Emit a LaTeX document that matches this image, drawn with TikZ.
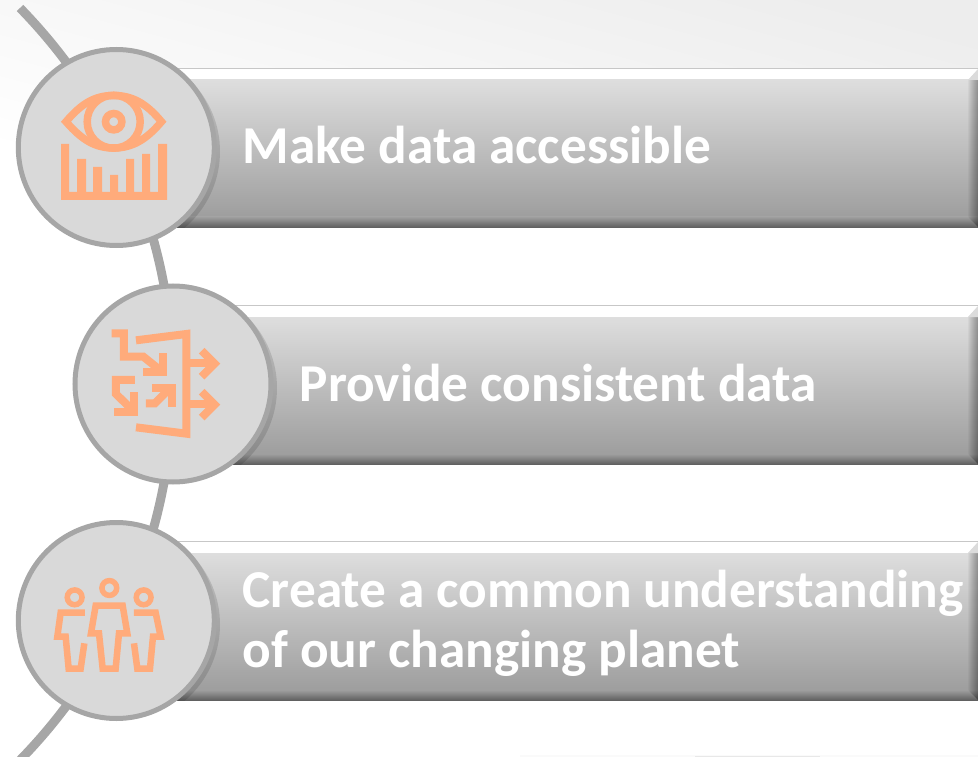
\documentclass[tikz,border=0pt]{standalone}
\usepackage{fontspec}
\setmainfont{Carlito}
\definecolor{ico}{HTML}{FFAB7B}
\definecolor{ringc}{HTML}{A6A6A6}
\definecolor{discc}{HTML}{D9D9D9}
\tikzset{
  x=1pt,y=-1pt,
  disc/.style={circle,draw=ringc,fill=discc,line width=5pt,minimum size=196pt,inner sep=0pt},
  spine/.style={draw=ringc,line width=9pt},
  iconline/.style={draw=ico,line width=6.5pt,miter limit=10},
  iconfat/.style={draw=ico,line width=8pt,miter limit=10},
  lbl/.style={text=white,font=\fontsize{53.3}{60}\selectfont\bfseries,anchor=base west,align=left,inner sep=0pt}
}
% #1 left x, #2 top y, #3 disc centre x, #4 disc centre y
\newcommand{\bevelbar}[4]{%
  \fill[white] (#1,#2) rectangle (978,#2+12);
  \draw[line width=1pt,draw=black!22] (#1,#2+.5) -- (978,#2+.5);
  \path[top color=black!13,bottom color=black!38] (#1,#2+12) rectangle (978,#2+149);
  \path[top color=black!38,bottom color=black!62] (#1,#2+149) rectangle (978,#2+159);
  \foreach \i in {0,...,9}{
    \fill[black,opacity=.035] (968+\i,#2+12-\i) -- (978,#2+2) -- (978,#2+159) -- (968+\i,#2+149+\i) -- cycle;
  }
  \fill[black!14] (968,#2+12) -- (978,#2+1) -- (978,#2+12) -- cycle;
  \begin{scope}
    \clip (#1,#2+12) rectangle (978,#2+159);
    \fill[black,opacity=.12] (#3+4,#4+4) circle[radius=100pt];
  \end{scope}
}
\begin{document}
\begin{tikzpicture}
\useasboundingbox (0,0) rectangle (978,757);
\path[top color=black!7,bottom color=white,shading angle=-15] (0,0) rectangle (978,190);
\fill[black!2] (520,754.5) rectangle (978,757);
\fill[black!9] (695,755.5) rectangle (820,757);

\coordinate (spineTop) at (20,8);
\draw[spine] (spineTop) arc[start angle=44.3,end angle=-44.6,radius=538.5pt];

\bevelbar{170}{68}{116}{147.5}
\bevelbar{230}{305}{173}{384}
\bevelbar{170}{541}{116}{620.5}

\node[disc] (c1) at (116.3,147.5) {};
\node[disc] (c2) at (173,384) {};
\node[disc] (c3) at (116.3,620.5) {};

% eye icon
\begin{scope}
\draw[iconline,line width=7.5pt] (66,121.7) .. controls (82,103) and (95,95.5) .. (113.7,95.5) .. controls (132,95.5) and (146,103) .. (161.5,121.7) .. controls (146,140) and (132,148) .. (113.7,148) .. controls (95,148) and (82,140) .. cycle;
\draw[iconline,line width=7.5pt] (113.7,121.7) circle[radius=26.5pt];
\draw[draw=ico,line width=7.5pt] (113.7,121.7) circle[radius=8.2pt];
\fill[ico] (61,144) rectangle (69,200) (61,192) rectangle (167,200) (158,144) rectangle (167,200)
 (77,159) rectangle (86,195) (93,167) rectangle (102,195) (110,175) rectangle (118,195)
 (126,159) rectangle (134,195) (142,154) rectangle (150,195);
\end{scope}

% funnel icon
\begin{scope}[shift={(60,270)},x=0.3333pt,y=-0.3333pt]
\draw[iconfat] (228,211) -- (379,192) -- (379,491) -- (228,472);
\draw[iconfat] (379,280) -- (460,280);
\draw[iconfat] (425,242) -- (464,281) -- (425,320);
\draw[iconfat] (379,403) -- (460,403);
\draw[iconfat] (425,365) -- (464,404) -- (425,443);
\draw[iconfat] (155,190) -- (192,190) -- (192,260) -- (250,260) -- (300,300);
\draw[iconfat] (250,307) -- (309,307) -- (309,250);
\draw[iconfat] (225,330) -- (168,330) -- (168,372) -- (215,418);
\draw[iconfat] (163,425) -- (222,425) -- (222,365);
\draw[iconfat] (258,400) -- (285,400) -- (330,355);
\draw[iconfat] (275,353) -- (335,353) -- (335,410);
\end{scope}

% people icon
\begin{scope}[shift={(0,510)},x=0.3333pt,y=-0.3333pt]
\draw[iconline,line width=5.5pt] (328,234) circle[radius=7.4pt];
\draw[iconline,line width=5.5pt] (224,262) circle[radius=7.4pt];
\draw[iconline,line width=5.5pt] (431,262) circle[radius=7.4pt];
\draw[iconline] (287,287) -- (368,287) -- (382,370) -- (357,370) -- (347,476) -- (308,476) -- (297,370) -- (273,370) -- cycle;
\draw[iconline] (255,308) -- (182,308) -- (172,380) -- (197,380) -- (206,476) -- (242,476) -- (253,400);
\draw[iconline] (402,308) -- (467,308) -- (482,380) -- (459,380) -- (450,476) -- (412,476) -- (402,400);
\end{scope}

\node[lbl] (t1) at (242.5,164) {Make data accessible};
\node[lbl] (t2) at (299.5,401) {Provide consistent data};
\node[lbl] (t3) at (242.5,667) {Create a common understanding\\of our changing planet};
\end{tikzpicture}
\end{document}
